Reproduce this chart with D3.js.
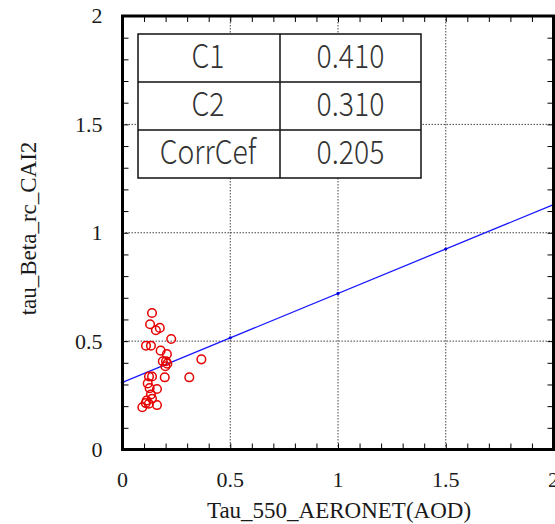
<!DOCTYPE html>
<html>
<head>
<meta charset="utf-8">
<script src="https://cdn.jsdelivr.net/npm/d3@7"></script>
<style>
  html, body { margin: 0; padding: 0; background: #fff; }
  svg { display: block; }
</style>
</head>
<body>
<div id="chart"></div>
<script>
// Observed pairs: AERONET AOD at 550 nm vs CAI2 retrieved tau
const aodAeronet = [0.137, 0.128, 0.155, 0.173, 0.226, 0.109, 0.132, 0.177, 0.206, 0.187,
                    0.202, 0.199, 0.208, 0.366, 0.123, 0.137, 0.196, 0.310, 0.117, 0.126,
                    0.160, 0.132, 0.137, 0.112, 0.108, 0.122, 0.092, 0.160];
const tauCai2   = [0.630, 0.578, 0.550, 0.561, 0.510, 0.479, 0.479, 0.456, 0.440, 0.407,
                    0.407, 0.384, 0.396, 0.416, 0.337, 0.337, 0.333, 0.333, 0.305, 0.283,
                    0.279, 0.254, 0.234, 0.226, 0.214, 0.211, 0.195, 0.205];

// Linear fit: tau = C1 * AOD + C2
const statNames  = ["C1", "C2", "CorrCef"];
const statValues = [0.410, 0.310, 0.205];
const C1 = statValues[0], C2 = statValues[1];

const xTickLabels = ["0", "0.5", "1", "1.5", "2"];
const yTickLabels = ["0", "0.5", "1", "1.5", "2"];
const majorTicks = [0, 0.5, 1, 1.5, 2];
const fitMarkerX = [0, 0.5, 1, 1.5, 2];

const W = 555, H = 524;
const plot = { left: 122.5, right: 553.5, top: 16, bottom: 449.5 };

const svg = d3.select("#chart").append("svg")
  .attr("width", W).attr("height", H);

const x = d3.scaleLinear().domain([0, 2]).range([plot.left, plot.right]);
const y = d3.scaleLinear().domain([0, 2]).range([plot.bottom, plot.top]);

const minor = d3.range(0, 2.0001, 0.1);
const serif = "'Liberation Serif', 'Times New Roman', serif";

// dotted grid at the major values
const grid = svg.append("g").attr("stroke", "#444").attr("stroke-width", 1)
  .attr("stroke-dasharray", "1.5,1.5");
majorTicks.slice(1, -1).forEach(v => {
  grid.append("line").attr("x1", x(v)).attr("x2", x(v))
    .attr("y1", plot.top).attr("y2", plot.bottom);
  grid.append("line").attr("x1", plot.left).attr("x2", plot.right)
    .attr("y1", y(v)).attr("y2", y(v));
});

// inward ticks on all four sides
const tickLen = 6;
const axB = d3.axisBottom(x).tickValues(minor).tickSizeInner(-tickLen).tickSizeOuter(0).tickFormat("");
const axT = d3.axisTop(x).tickValues(minor).tickSizeInner(-tickLen).tickSizeOuter(0).tickFormat("");
const axL = d3.axisLeft(y).tickValues(minor).tickSizeInner(-tickLen).tickSizeOuter(0).tickFormat("");
const axR = d3.axisRight(y).tickValues(minor).tickSizeInner(-tickLen).tickSizeOuter(0).tickFormat("");
[[axB, `translate(0,${plot.bottom})`], [axT, `translate(0,${plot.top})`],
 [axL, `translate(${plot.left},0)`], [axR, `translate(${plot.right},0)`]].forEach(([ax, tr]) => {
  const g = svg.append("g").attr("transform", tr).call(ax);
  g.select(".domain").remove();
  g.selectAll("line").attr("stroke", "#000").attr("stroke-width", 1);
});

// tick labels
svg.append("g").selectAll("text").data(majorTicks).join("text")
  .attr("x", d => x(d)).attr("y", 487)
  .attr("text-anchor", "middle")
  .attr("font-family", serif).attr("font-size", 22).attr("fill", "#1a1a1a")
  .text((d, i) => xTickLabels[i]);

svg.append("g").selectAll("text").data(majorTicks).join("text")
  .attr("x", 102.5).attr("y", d => y(d))
  .attr("dy", "0.34em")
  .attr("text-anchor", "end")
  .attr("font-family", serif).attr("font-size", 22).attr("fill", "#1a1a1a")
  .text((d, i) => yTickLabels[i]);

// axis titles
svg.append("text")
  .attr("x", 339).attr("y", 518)
  .attr("text-anchor", "middle")
  .attr("font-family", serif).attr("font-size", 23).attr("fill", "#1a1a1a")
  .text("Tau_550_AERONET(AOD)");

svg.append("text")
  .attr("transform", `translate(36,228.5) rotate(-90)`)
  .attr("text-anchor", "middle")
  .attr("font-family", serif).attr("font-size", 23).attr("fill", "#1a1a1a")
  .text("tau_Beta_rc_CAI2");

// regression line
const fitLine = d3.line().x(d => x(d)).y(d => y(C1 * d + C2));
svg.append("path").datum([0, 2]).attr("d", fitLine)
  .attr("fill", "none").attr("stroke", "#1a1aff").attr("stroke-width", 1.3);
svg.append("g").selectAll("circle").data(fitMarkerX).join("circle")
  .attr("cx", d => x(d)).attr("cy", d => y(C1 * d + C2)).attr("r", 1.6)
  .attr("fill", "#0000e0");

// observations
svg.append("g").selectAll("circle").data(aodAeronet).join("circle")
  .attr("cx", d => x(d)).attr("cy", (d, i) => y(tauCai2[i])).attr("r", 4.3)
  .attr("fill", "none").attr("stroke", "#e60000").attr("stroke-width", 1.5);

// frame
svg.append("rect")
  .attr("x", plot.left).attr("y", plot.top)
  .attr("width", plot.right - plot.left).attr("height", plot.bottom - plot.top)
  .attr("fill", "none").attr("stroke", "#000").attr("stroke-width", 3);

// statistics table
const tbl = { left: 138, mid: 280, right: 421, top: 34, rowH: 48 };
const tg = svg.append("g");
tg.append("rect")
  .attr("x", tbl.left).attr("y", tbl.top)
  .attr("width", tbl.right - tbl.left).attr("height", tbl.rowH * statNames.length)
  .attr("fill", "#fff").attr("stroke", "#111").attr("stroke-width", 1.5);
d3.range(1, statNames.length).forEach(i => {
  tg.append("line").attr("x1", tbl.left).attr("x2", tbl.right)
    .attr("y1", tbl.top + i * tbl.rowH).attr("y2", tbl.top + i * tbl.rowH)
    .attr("stroke", "#111").attr("stroke-width", 1.5);
});
tg.append("line").attr("x1", tbl.mid).attr("x2", tbl.mid)
  .attr("y1", tbl.top).attr("y2", tbl.top + tbl.rowH * statNames.length)
  .attr("stroke", "#111").attr("stroke-width", 1.5);

const cellFont = "'Noto Sans CJK JP', 'Noto Sans', sans-serif";
statNames.forEach((name, i) => {
  const base = tbl.top + i * tbl.rowH + 34.5;
  const c1 = (tbl.left + tbl.mid) / 2 - 1;
  const c2 = (tbl.mid + tbl.right) / 2;
  tg.append("text")
    .attr("x", c1).attr("y", base)
    .attr("text-anchor", "middle")
    .attr("font-family", cellFont).attr("font-size", 33).attr("font-weight", 300)
    .attr("fill", "#333")
    .attr("transform", `translate(${c1},0) scale(0.86,1) translate(${-c1},0)`)
    .text(name);
  tg.append("text")
    .attr("x", c2).attr("y", base)
    .attr("text-anchor", "middle")
    .attr("font-family", cellFont).attr("font-size", 33).attr("font-weight", 300)
    .attr("fill", "#333")
    .attr("transform", `translate(${c2},0) scale(0.86,1) translate(${-c2},0)`)
    .text(statValues[i].toFixed(3));
});
</script>
</body>
</html>
